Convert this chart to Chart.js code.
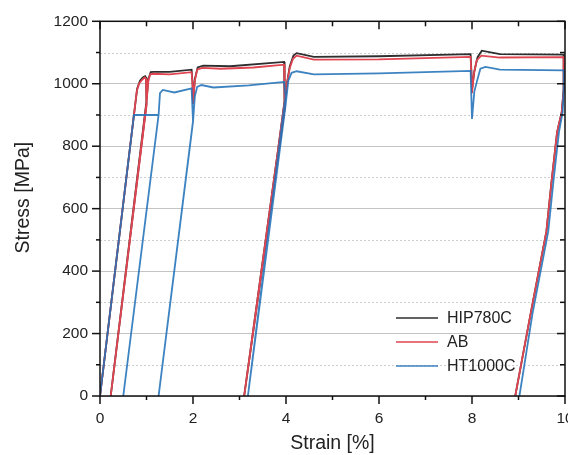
<!DOCTYPE html>
<html>
<head>
<meta charset="utf-8">
<title>Stress vs strain</title>
<script src="https://cdn.jsdelivr.net/npm/chart.js@4.4.1/dist/chart.umd.min.js"></script>
<style>
  html, body { margin: 0; padding: 0; background: #fff; overflow: hidden; }
  #wrap { width: 620px; height: 455px; }
</style>
</head>
<body>
<div id="wrap"><canvas id="stressChart" width="620" height="455"></canvas></div>
<script>
// values: strain in %, stress in MPa
const hipStrain = [0, 0.73, 0.80, 0.86, 0.92, 0.97, 0.99, 1.00, 0.23, 1.00, 1.04, 1.09, 1.15, 1.50, 1.97, 1.99, 2.00, 2.04, 2.10, 2.22, 2.80, 3.96, 3.97, 3.10, 3.84, 4.02, 4.08, 4.16, 4.23, 4.60, 6.00, 7.97, 7.99, 8.00, 8.05, 8.12, 8.21, 8.60, 9.975, 9.97, 9.93, 9.83, 9.71, 9.60, 9.26, 8.93];
const hipStress = [0, 900, 985, 1010, 1020, 1024, 1020, 935, 0, 945, 1015, 1037, 1038, 1038, 1045, 1005, 940, 1015, 1052, 1058, 1056, 1070, 920, 0, 800, 1000, 1055, 1090, 1098, 1086, 1088, 1095, 1030, 980, 1040, 1085, 1106, 1095, 1093, 980, 910, 845, 686, 527, 263, 0];

const abStrain = [0, 0.73, 0.79, 0.84, 0.90, 0.96, 0.99, 1.00, 0.23, 1.00, 1.04, 1.08, 1.15, 1.50, 1.97, 1.99, 2.00, 2.04, 2.09, 2.20, 2.60, 3.30, 3.96, 3.97, 3.10, 3.84, 4.02, 4.08, 4.15, 4.23, 4.60, 6.00, 7.97, 7.99, 8.00, 8.04, 8.10, 8.20, 8.60, 9.975, 9.97, 9.93, 9.83, 9.71, 9.60, 9.26, 8.93];
const abStress = [0, 900, 975, 1000, 1012, 1020, 1016, 930, 0, 940, 1010, 1030, 1032, 1030, 1037, 1000, 935, 1010, 1045, 1051, 1048, 1052, 1061, 920, 0, 800, 1000, 1050, 1080, 1090, 1077, 1078, 1086, 1020, 970, 1030, 1075, 1090, 1084, 1085, 980, 910, 845, 686, 527, 263, 0];

const htStrain = [0, 0.73, 1.26, 0.50, 1.26, 1.29, 1.35, 1.60, 1.97, 2.00, 1.26, 2.00, 2.04, 2.09, 2.18, 2.44, 3.20, 3.96, 3.99, 3.18, 3.99, 4.05, 4.12, 4.23, 4.60, 6.00, 7.97, 8.00, 8.05, 8.11, 8.18, 8.29, 8.60, 9.975, 9.975, 9.95, 9.87, 9.75, 9.64, 9.30, 9.02];
const htStress = [0, 900, 900, 0, 900, 970, 980, 972, 985, 880, 0, 878, 960, 990, 996, 988, 995, 1006, 960, 0, 930, 1010, 1035, 1040, 1030, 1033, 1041, 887, 975, 1010, 1048, 1054, 1045, 1043, 990, 910, 845, 686, 527, 263, 0];

const seriesNames = ['HIP780C', 'AB', 'HT1000C'];
const seriesColors = ['#2e2e2e', '#df4450', 'rgba(34, 114, 184, 0.88)'];
const xMinorTicks = [1, 3, 5, 7, 9];
const yMinorTicks = [100, 300, 500, 700, 900, 1100];

const fontFamily = '"Liberation Sans", Arial, sans-serif';

function toPoints(xs, ys) {
    return xs.map((x, i) => ({ x: x, y: ys[i] }));
}

// minor grid, frame, tick marks on all four sides, y title and legend
const frameDecor = {
    id: 'frameDecor',
    beforeDatasetsDraw(chart) {
        const { ctx, chartArea: a, scales: { y } } = chart;
        ctx.save();
        ctx.strokeStyle = '#cdcdcd';
        ctx.lineWidth = 1;
        ctx.setLineDash([2, 2]);
        yMinorTicks.forEach(v => {
            const py = Math.round(y.getPixelForValue(v)) + 0.5;
            ctx.beginPath();
            ctx.moveTo(a.left, py);
            ctx.lineTo(a.right, py);
            ctx.stroke();
        });
        ctx.restore();
    },
    afterDraw(chart) {
        const { ctx, chartArea: a, scales: { x, y } } = chart;
        ctx.save();
        ctx.strokeStyle = '#111';
        ctx.lineWidth = 1.5;
        ctx.strokeRect(a.left, a.top, a.right - a.left, a.bottom - a.top);

        const mark = (x1, y1, x2, y2) => {
            ctx.beginPath();
            ctx.moveTo(x1, y1);
            ctx.lineTo(x2, y2);
            ctx.stroke();
        };
        x.ticks.forEach(t => {
            const px = x.getPixelForValue(t.value);
            mark(px, a.bottom, px, a.bottom + 8);
            mark(px, a.top, px, a.top + 8);
        });
        xMinorTicks.forEach(v => {
            const px = x.getPixelForValue(v);
            mark(px, a.bottom, px, a.bottom + 4);
            mark(px, a.top, px, a.top + 5);
        });
        y.ticks.forEach(t => {
            const py = y.getPixelForValue(t.value);
            mark(a.left - 8, py, a.left, py);
            mark(a.right - 8, py, a.right, py);
        });
        yMinorTicks.forEach(v => {
            const py = y.getPixelForValue(v);
            mark(a.left - 4, py, a.left, py);
            mark(a.right - 5, py, a.right, py);
        });

        // y axis title
        ctx.fillStyle = '#222';
        ctx.font = '19.5px ' + fontFamily;
        ctx.textAlign = 'center';
        ctx.textBaseline = 'middle';
        ctx.save();
        ctx.translate(24, (a.top + a.bottom) / 2 - 11);
        ctx.rotate(-Math.PI / 2);
        ctx.fillText('Stress [MPa]', 0, 0);
        ctx.restore();

        // legend in the lower right of the plot
        ctx.font = '16px ' + fontFamily;
        ctx.textAlign = 'left';
        seriesNames.forEach((name, i) => {
            const ly = a.bottom - 78 + i * 24;
            ctx.strokeStyle = seriesColors[i];
            ctx.lineWidth = 1.6;
            mark(a.right - 169, ly, a.right - 127, ly);
            ctx.fillStyle = '#222';
            ctx.fillText(name, a.right - 118, ly + 1);
        });
        ctx.restore();
    }
};

document.addEventListener('DOMContentLoaded', function () {
    const ctx = document.getElementById('stressChart').getContext('2d');

    const lineStyle = {
        showLine: true,
        fill: false,
        pointRadius: 0,
        borderWidth: 1.8,
        tension: 0
    };

    new Chart(ctx, {
        type: 'scatter',
        data: {
            datasets: [{
                label: seriesNames[0],
                data: toPoints(hipStrain, hipStress),
                borderColor: seriesColors[0],
                order: 2,
                ...lineStyle
            }, {
                label: seriesNames[1],
                data: toPoints(abStrain, abStress),
                borderColor: seriesColors[1],
                order: 1,
                ...lineStyle
            }, {
                label: seriesNames[2],
                data: toPoints(htStrain, htStress),
                borderColor: seriesColors[2],
                order: 0,
                ...lineStyle
            }]
        },
        options: {
            responsive: false,
            animation: false,
            layout: { padding: { top: 18, right: 55, bottom: 0, left: 0 } },
            plugins: {
                legend: { display: false },
                tooltip: { enabled: false }
            },
            scales: {
                x: {
                    type: 'linear',
                    min: 0,
                    max: 10,
                    ticks: { stepSize: 2, padding: 5, color: '#222', font: { size: 15.5, family: fontFamily },
                        callback: v => String(v) },
                    grid: { display: false },
                    border: { display: false },
                    title: {
                        display: true,
                        text: 'Strain [%]',
                        color: '#222',
                        font: { size: 19.5, family: fontFamily },
                        padding: { top: 0, bottom: 0 }
                    },
                    afterFit: scale => { scale.height = 59; }
                },
                y: {
                    min: 0,
                    max: 1200,
                    ticks: { stepSize: 200, padding: 12, color: '#222', font: { size: 15.5, family: fontFamily },
                        callback: v => String(v) },
                    grid: { color: '#c4c4c4', lineWidth: 1, drawTicks: false },
                    border: { display: false },
                    afterFit: scale => { scale.width = 100; }
                }
            }
        },
        plugins: [frameDecor]
    });
});
</script>
</body>
</html>
